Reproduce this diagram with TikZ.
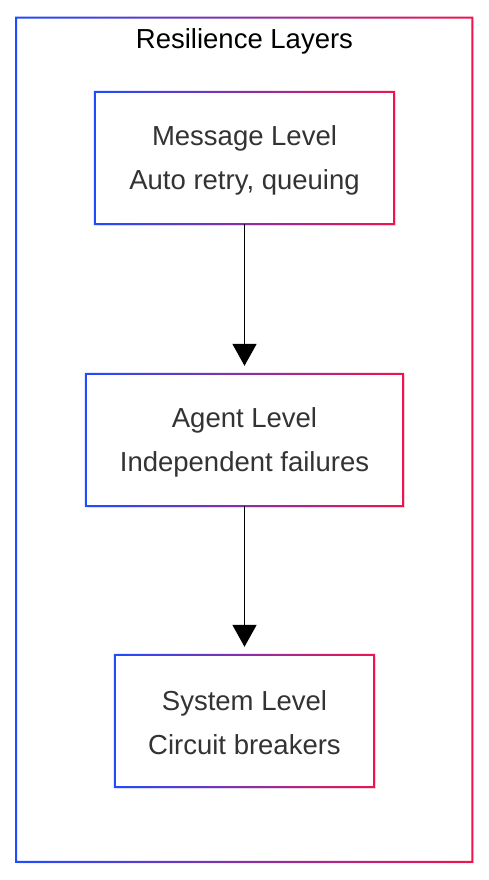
\documentclass[tikz,border=0pt]{standalone}
\usepackage{fontspec}
\setmainfont{Liberation Sans}
\usetikzlibrary{arrows.meta,shadows,calc}
\definecolor{gblue}{HTML}{1F4CFF}
\definecolor{gred}{HTML}{F0144E}
\definecolor{txt}{HTML}{333333}
\tikzset{
  layerbox/.style={minimum height=132pt, inner sep=0pt, align=center,
    font=\fontsize{27.5}{44}\selectfont, text=txt, fill=white,
    drop shadow={opacity=0.12, shadow xshift=1.5pt, shadow yshift=-2pt}},
  flow/.style={line width=1.8pt, -{Triangle[width=24pt,length=22pt]}, shorten >=8pt}
}
\newcommand{\gradborder}[2]{%
  \path[left color=gblue, right color=gred, even odd rule]
    ($(#1.south west)+(-#2,-#2)$) rectangle ($(#1.north east)+(#2,#2)$)
    ($(#1.south west)+(#2,#2)$) rectangle ($(#1.north east)+(-#2,-#2)$);
}
\newcommand{\lift}{\rule{0pt}{24pt}}
\begin{document}
\begin{tikzpicture}[x=1pt,y=1pt]
\useasboundingbox[fill=white] (0,0) rectangle (489,-880);
% outer frame
\node[minimum width=456pt, minimum height=844pt, inner sep=0pt,
  fill=white, drop shadow={opacity=0.10, shadow xshift=1.5pt, shadow yshift=-2pt}]
  (frame) at (244.25,-439.75) {};
\gradborder{frame}{1pt}
\node[font=\fontsize{27.5}{32}\selectfont, text=black] (title) at (244.5,-41.5) {Resilience Layers};
% layers
\node[layerbox, minimum width=299pt] (lmsg) at (244.5,-158) {\lift Message Level\\Auto retry, queuing};
\node[layerbox, minimum width=317pt] (lagt) at (244.5,-440) {\lift Agent Level\\Independent failures};
\node[layerbox, minimum width=259pt] (lsys) at (244.5,-721) {\lift System Level\\Circuit breakers};
\gradborder{lmsg}{1pt}
\gradborder{lagt}{1pt}
\gradborder{lsys}{1pt}
% arrows
\draw[flow] (lmsg.south) -- (lagt.north);
\draw[flow] (lagt.south) -- (lsys.north);
\end{tikzpicture}
\end{document}
